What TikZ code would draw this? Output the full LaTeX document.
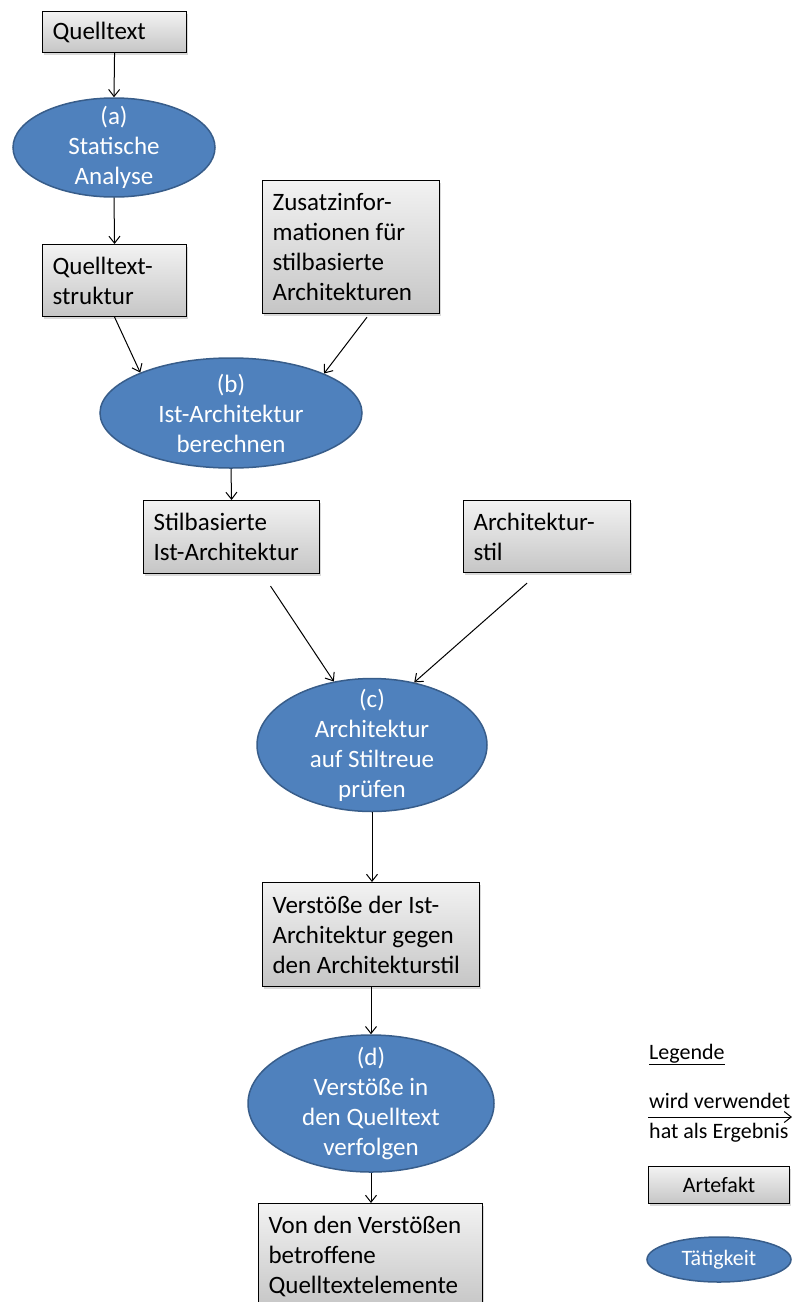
\documentclass[tikz,border=0pt]{standalone}
\usepackage{fontspec}
\setmainfont{Carlito}
\usetikzlibrary{arrows.meta,shadows,shapes.geometric}
\definecolor{taetfill}{HTML}{4F81BD}
\definecolor{taetrand}{HTML}{385D8A}
\newcommand{\Gross}{\fontsize{25}{30}\selectfont}
\newcommand{\Klein}{\fontsize{22}{27}\selectfont}
\tikzset{
  artefakt/.style={rectangle, draw=black, line width=1.1pt,
    top color=gray!10, bottom color=gray!45, anchor=north west,
    align=flush left, text width=#1, inner xsep=10pt, inner ysep=0pt, font=\Gross,
    drop shadow={opacity=0.3, shadow xshift=1.5pt, shadow yshift=-2pt}},
  taetigkeit/.style={ellipse, draw=taetrand, line width=1.5pt, fill=taetfill},
  taettext/.style={text=white, align=center, inner sep=0pt, font=\Gross},
  legtext/.style={anchor=base west, inner sep=0pt, font=\Klein},
  pfeil/.style={-{Straight Barb[length=7pt,width=11pt]}, line width=1pt},
}

\begin{document}
\begin{tikzpicture}[x=1pt,y=-1pt]
  \path[use as bounding box, clip] (0,0) rectangle (792,1302);

  % Artefakte und Taetigkeiten
  \node[artefakt=124pt, minimum height=41pt] (quelltext) at (42,11) {Quelltext};
  \node[taetigkeit, minimum width=202pt, minimum height=99pt] (analyse) at (114,147.5) {};
  \node[taettext] (analyseText) at (analyse) {(a)\\Statische\\Analyse};
  \node[artefakt=124pt, minimum height=72pt] (struktur) at (42,244) {Quelltext-\\struktur};
  \node[artefakt=157pt, minimum height=133pt] (zusatz) at (262,180)
    {Zusatzinfor-\\mationen für\\stilbasierte\\Architekturen};
  \node[taetigkeit, minimum width=262pt, minimum height=110pt] (berechnen) at (231,413) {};
  \node[taettext] (berechnenText) at (berechnen) {(b)\\Ist-Architektur\\berechnen};
  \node[artefakt=156pt, minimum height=73pt] (istarch) at (143,500) {Stilbasierte\\Ist-Architektur};
  \node[artefakt=147pt, minimum height=72pt] (stil) at (463,500) {Architektur-\\stil};
  \node[taetigkeit, minimum width=230pt, minimum height=133pt] (pruefen) at (372,745) {};
  \node[taettext] (pruefenText) at (pruefen) {(c)\\Architektur\\auf Stiltreue\\prüfen};
  \node[artefakt=197pt, minimum height=104pt] (verstoesse) at (262,882)
    {Verstöße der Ist-\\Architektur gegen\\den Architekturstil};
  \node[taetigkeit, minimum width=246pt, minimum height=137pt] (verfolgen) at (371,1103.5) {};
  \node[taettext] (verfolgenText) at (verfolgen) {(d)\\Verstöße in\\den Quelltext\\verfolgen};
  \node[artefakt=204pt, minimum height=105pt] (betroffen) at (258,1203)
    {Von den Verstößen\\betroffene\\Quelltextelemente};

  % Pfeile
  \coordinate (ausZusatz) at ([xshift=16pt,yshift=-3pt]zusatz.south);
  \coordinate (ausIstarch) at ([xshift=39pt,yshift=-12pt]istarch.south);
  \coordinate (ausStil) at ([xshift=-20pt,yshift=-10pt]stil.south);
  \draw[pfeil] (quelltext.south) -- (analyse.north);
  \draw[pfeil] (analyse.south) -- (struktur.north);
  \draw[pfeil] (struktur.south) -- (berechnen.156);
  \draw[pfeil] (ausZusatz) -- (berechnen.23);
  \draw[pfeil] (berechnen.south) -- (istarch.north);
  \draw[pfeil] (ausIstarch) -- (pruefen.121);
  \draw[pfeil] (ausStil) -- (pruefen.56);
  \draw[pfeil] (pruefen.south) -- (pruefen.south |- verstoesse.north);
  \draw[pfeil] (verfolgen.north |- verstoesse.south) -- (verfolgen.north);
  \draw[pfeil] (verfolgen.south) -- (verfolgen.south |- betroffen.north);

  % Legende
  \node[legtext] (legende) at (649,1059) {\underline{Legende}};
  \node[legtext] (wirdVerw) at (649,1108) {wird verwendet};
  \node[legtext] (hatErg) at (649,1138) {hat als Ergebnis};
  \coordinate (legA) at (648,1117);
  \coordinate (legB) at (792,1117);
  \draw[pfeil] (legA) -- (legB);
  \node[artefakt=121pt, minimum height=37pt, align=center, font=\Klein] (legArtefakt) at (648,1166) {Artefakt};
  \node[taetigkeit, minimum width=144pt, minimum height=45pt] (legTaet) at (719,1259.5) {};
  \node[taettext, font=\Klein] (legTaetText) at (legTaet) {Tätigkeit};
\end{tikzpicture}
\end{document}
